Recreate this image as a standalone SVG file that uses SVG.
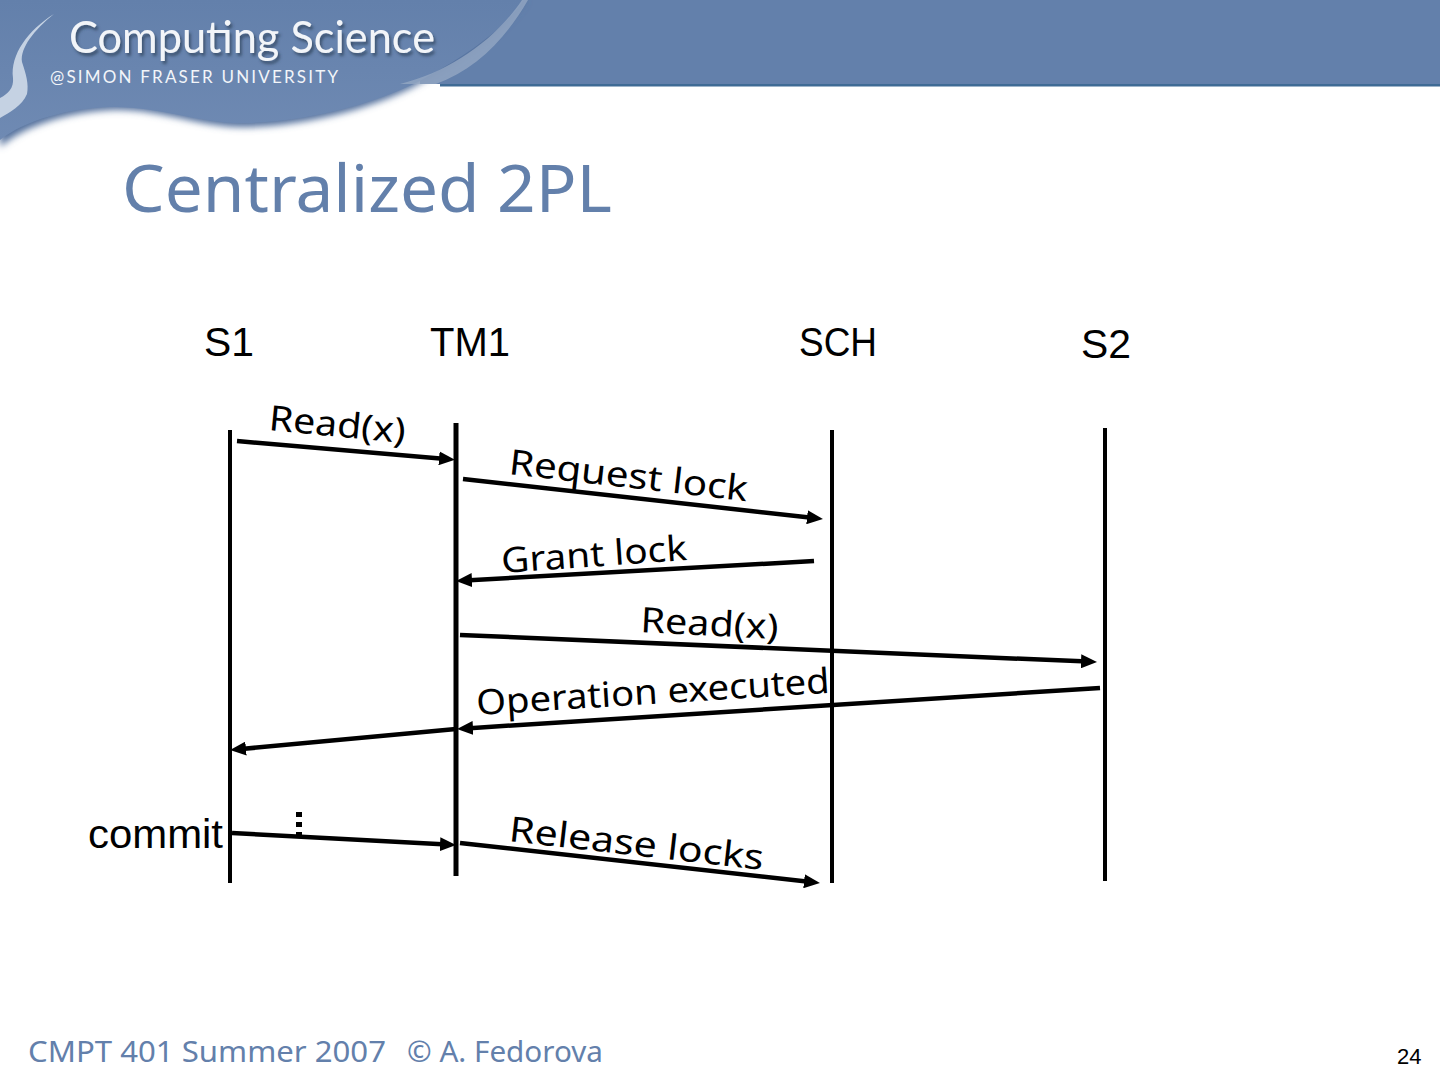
<svg xmlns="http://www.w3.org/2000/svg" width="1440" height="1080" viewBox="0 0 1440 1080">
<style>
.life{stroke:#000;fill:none;stroke-width:4}
.msg{stroke:#000;fill:none;stroke-width:4.5;marker-end:url(#ah)}
.lab{font-family:"Liberation Sans",Arial,sans-serif;font-size:40px;fill:#000}
.ml{font-family:"Noto Sans","DejaVu Sans",sans-serif;font-size:35px;fill:#000}
.foot{font-family:"Noto Sans","DejaVu Sans",sans-serif;font-size:29px;fill:#6380ab}
.title{font-family:"Noto Sans","DejaVu Sans",sans-serif;font-size:65px;fill:#6380ab}
.brand{font-family:Lato,"Open Sans",sans-serif;fill:#f2f5f9}
</style>
<defs>
<marker id="ah" markerUnits="userSpaceOnUse" markerWidth="16" markerHeight="14" refX="7" refY="7" orient="auto"><path d="M0,0L16,7L0,14z" fill="#000"/></marker>
<filter id="blur" x="-5%" y="-10%" width="110%" height="130%"><feGaussianBlur stdDeviation="3.5"/></filter>
<filter id="ts" x="-5%" y="-20%" width="110%" height="150%"><feDropShadow dx="2" dy="3" stdDeviation="1.5" flood-color="#2f3f58" flood-opacity=".75"/></filter>
<linearGradient id="band" x1="0" y1="0" x2="0" y2="1"><stop offset="0" stop-color="#6380ab"/><stop offset="1" stop-color="#6f8ab3"/></linearGradient>
</defs>
<rect width="1440" height="1080" fill="#fff"/>
<g id="banner">
<rect x="420" y="0" width="1020" height="84" fill="#6380ab"/>
<rect x="440" y="84" width="1000" height="2.5" fill="#3f6b95"/>
<path d="M0,147 C25,125 70,112 110,110 C160,108 200,128 245,127 C310,126 385,105 425,80 C470,55 505,30 526,0 L0,0Z" fill="#52709c" filter="url(#blur)"/>
<path d="M0,140 C25,120 70,108 110,107 C160,106 200,124 245,123 C310,122 385,101 425,78 C470,53 505,28 524,0 L0,0Z" fill="url(#band)"/>
<path d="M400,84 C450,72 495,40 522,0 L528,0 C505,40 475,70 436,84Z" fill="#97a9c4" opacity=".75"/>
<path d="M54,14 C34,30 20,48 22,62 C26,74 29,84 27,94 C22,106 10,112 0,118 L0,98 C8,94 14,88 13,78 C10,55 28,30 54,14Z" fill="#c5d2e3"/>
<text class="brand" x="69" y="53" font-size="44" filter="url(#ts)" textLength="366" lengthAdjust="spacingAndGlyphs">Computing Science</text>
<text class="brand" x="50" y="83" font-size="17" fill="#e6ebf2" textLength="288" lengthAdjust="spacing">@SIMON FRASER UNIVERSITY</text>
</g>
<text id="title" class="title" x="122" y="212" textLength="490" lengthAdjust="spacingAndGlyphs">Centralized 2PL</text>
<g id="node-S1"><text class="lab" x="204" y="356" textLength="50" lengthAdjust="spacingAndGlyphs">S1</text><line class="life" x1="230" y1="430" x2="230" y2="883"/></g>
<g id="node-TM1"><text class="lab" x="430" y="356" textLength="80" lengthAdjust="spacingAndGlyphs">TM1</text><line class="life" style="stroke-width:5" x1="456" y1="423" x2="456" y2="876"/></g>
<g id="node-SCH"><text class="lab" x="799" y="356" textLength="78" lengthAdjust="spacingAndGlyphs">SCH</text><line class="life" x1="832" y1="430" x2="832" y2="883"/></g>
<g id="node-S2"><text class="lab" x="1081" y="358" textLength="50" lengthAdjust="spacingAndGlyphs">S2</text><line class="life" x1="1105" y1="428" x2="1105" y2="881"/></g>
<g id="connectors">
<line class="msg" x1="237" y1="441" x2="446" y2="459"/>
<line class="msg" x1="463" y1="479" x2="814" y2="518"/>
<line class="msg" x1="814" y1="561" x2="465" y2="580.5"/>
<line class="msg" x1="460" y1="635" x2="1088" y2="661.6"/>
<line class="msg" x1="1100" y1="688" x2="466" y2="728.4"/>
<line class="msg" x1="456" y1="729" x2="239" y2="749.2"/>
<line class="msg" x1="232" y1="833" x2="447" y2="844.5"/>
<line class="msg" x1="460" y1="843" x2="811" y2="882"/>
</g>
<g id="labels">
<text class="ml" transform="translate(268,430) rotate(5.5)" textLength="137" lengthAdjust="spacingAndGlyphs">Read(x)</text>
<text class="ml" transform="translate(508,474) rotate(6.5)" textLength="240" lengthAdjust="spacingAndGlyphs">Request lock</text>
<text class="ml" transform="translate(502,573) rotate(-4)" textLength="186" lengthAdjust="spacingAndGlyphs">Grant lock</text>
<text class="ml" transform="translate(640,632) rotate(3)" textLength="138" lengthAdjust="spacingAndGlyphs">Read(x)</text>
<text class="ml" transform="translate(477,715) rotate(-3.6)" textLength="354" lengthAdjust="spacingAndGlyphs">Operation executed</text>
<text class="ml" transform="translate(508,841) rotate(6.5)" textLength="256" lengthAdjust="spacingAndGlyphs">Release locks</text>
<text class="lab" x="88" y="848" textLength="135" lengthAdjust="spacingAndGlyphs">commit</text>
<g fill="#000"><rect x="296" y="812" width="6" height="5"/><rect x="296" y="822" width="6" height="5"/><rect x="296" y="832" width="6" height="5"/></g>
</g>
<g id="footer">
<text class="foot" x="28" y="1062" textLength="358" lengthAdjust="spacingAndGlyphs">CMPT 401 Summer 2007</text>
<text class="foot" x="407" y="1062" textLength="196" lengthAdjust="spacingAndGlyphs">© A. Fedorova</text>
<text x="1397" y="1064" font-family="'Liberation Sans',Arial,sans-serif" font-size="22" fill="#000">24</text>
</g>
</svg>
